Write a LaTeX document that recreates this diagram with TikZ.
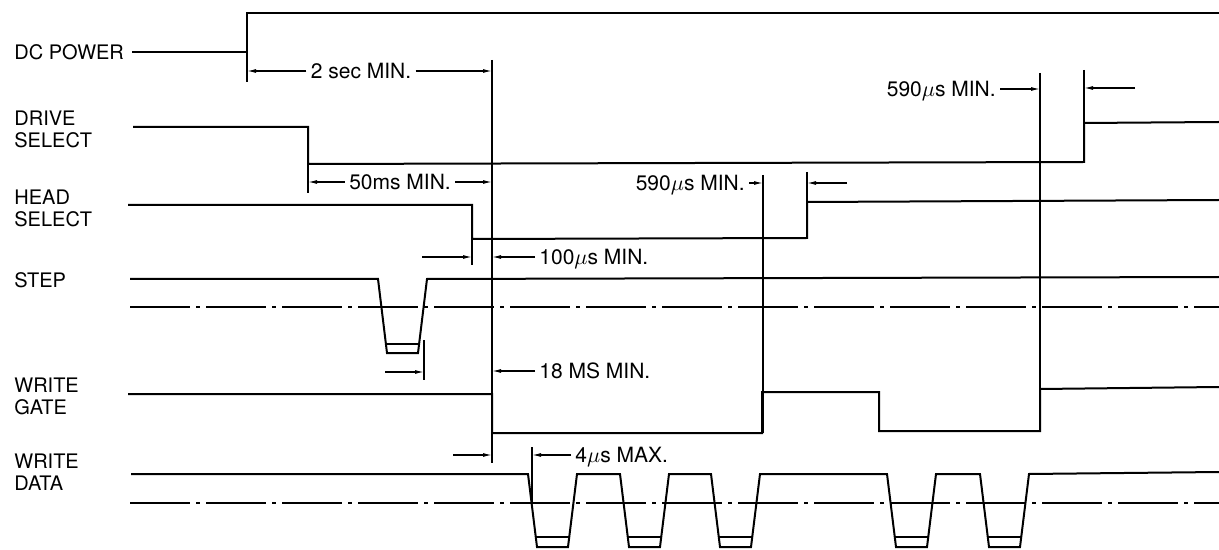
\documentclass[tikz,border=0pt]{standalone}
\usepackage{fontspec}
\setmainfont{TeX Gyre Heros}
\usetikzlibrary{arrows.meta}

\begin{document}
\begin{tikzpicture}[
    x=0.5pt,y=-0.5pt,
    font=\fontsize{10}{11}\selectfont,
    >={Latex[length=4.5pt,width=2pt]},
    sig/.style={line width=1pt,line join=miter},
    ext/.style={line width=0.7pt},
    dim/.style={->,line width=0.6pt},
    thr/.style={line width=0.8pt,dash pattern=on 30pt off 3pt on 2pt off 3pt},
    signame/.style={anchor=west,align=left,inner sep=0pt},
    tlabel/.style={inner sep=2pt,text depth=0pt,font=\fontsize{10.5}{12}\selectfont}
  ]
    \useasboundingbox (0,0) rectangle (1219,550);

    \node[signame] (dcp) at (14,52) {DC POWER};
    \node[signame] (dsel) at (14,129) {DRIVE\\SELECT};
    \node[signame] (hsel) at (14,208) {HEAD\\SELECT};
    \node[signame] (stp) at (14,280) {STEP};
    \node[signame] (wgate) at (14,396) {WRITE\\GATE};
    \node[signame] (wdata) at (14,472) {WRITE\\DATA};

    \draw[sig] (132,52) -- (247,52) -- (247,13) -- (1219,13);
    \draw[sig] (133,127) -- (308,127) -- (308,164) -- (1084,162) -- (1084,123) -- (1219,122);
    \draw[sig] (128,205) -- (472,205) -- (472,239) -- (807,238) -- (807,202) -- (1219,200);
    \draw[sig] (130,279) -- (378,279) -- (387,353) -- (418,353) -- (427,279) -- (1219,277);
    \draw[sig] (385,344) -- (420,344);
    \draw[thr] (130,307) -- (1219,307);
    \draw[sig] (128,394) -- (492,394) -- (492,433) -- (762,433) -- (762,392) -- (879,392)
      -- (879,431) -- (1040,431) -- (1040,389) -- (1219,387);
    \draw[sig] (131,474) foreach \p in {528,620,711,887,980} {
      -- (\p,474) -- (\p+9,547) -- (\p+40,547) -- (\p+49,474) } -- (1219,472);
    \foreach \p in {528,620,711,887,980}
      \draw[sig] (\p+8,537) -- (\p+41,537);
    \draw[thr] (130,503) -- (1219,503);

    \draw[ext] (247,52) -- (247,82);
    \draw[ext] (492,60) -- (492,463);
    \draw[ext] (308,164) -- (308,193);
    \draw[ext] (472,239) -- (472,265);
    \draw[ext] (763,175) -- (763,433);
    \draw[ext] (807,172) -- (807,238);
    \draw[ext] (1040,73) -- (1040,431);
    \draw[ext] (1084,70) -- (1084,123);
    \draw[ext] (424,340) -- (424,380);
    \draw[ext] (532,447) -- (532,503);

    \coordinate (pwron) at (247,71);
    \coordinate (rdyA) at (492,71);
    \node[tlabel] (twosec) at (361,71) {2 sec MIN.};
    \draw[dim] (twosec) -- (pwron);
    \draw[dim] (twosec) -- (rdyA);

    \coordinate (dsfall) at (308,182);
    \coordinate (rdyB) at (492,182);
    \node[tlabel] (fiftyms) at (400,182) {50ms MIN.};
    \draw[dim] (fiftyms) -- (dsfall);
    \draw[dim] (fiftyms) -- (rdyB);

    \coordinate (wgrise) at (763,183);
    \coordinate (hsrise) at (807,183);
    \coordinate (hstail) at (847,183);
    \node[tlabel,anchor=east] (hsdelay) at (749,183) {590$\mu$s MIN.};
    \draw[dim] (hsdelay) -- (wgrise);
    \draw[dim] (hstail) -- (hsrise);

    \coordinate (wgend) at (1040,89);
    \coordinate (dsrise) at (1084,88);
    \coordinate (dstail) at (1135,88);
    \node[tlabel,anchor=east] (dsdelay) at (1000,89) {590$\mu$s MIN.};
    \draw[dim] (dsdelay) -- (wgend);
    \draw[dim] (dstail) -- (dsrise);

    \coordinate (hstailB) at (422,257);
    \coordinate (hsfall) at (472,257);
    \coordinate (rdyC) at (492,257);
    \node[tlabel,anchor=west] (hundred) at (535,257) {100$\mu$s MIN.};
    \draw[dim] (hstailB) -- (hsfall);
    \draw[dim] (hundred) -- (rdyC);

    \coordinate (sptail) at (385,372);
    \coordinate (sprise) at (424,372);
    \coordinate (rdyD) at (492,371);
    \node[tlabel,anchor=west] (eighteen) at (535,371) {18 MS MIN.};
    \draw[dim] (sptail) -- (sprise);
    \draw[dim] (eighteen) -- (rdyD);

    \coordinate (wgtail) at (453,455);
    \coordinate (wgfall) at (492,455);
    \coordinate (wdfall) at (532,455);
    \node[tlabel,anchor=west] (fourus) at (571,455) {4$\mu$s MAX.};
    \draw[dim] (wgtail) -- (wgfall);
    \draw[dim] (fourus) -- (wdfall);
\end{tikzpicture}
\end{document}
